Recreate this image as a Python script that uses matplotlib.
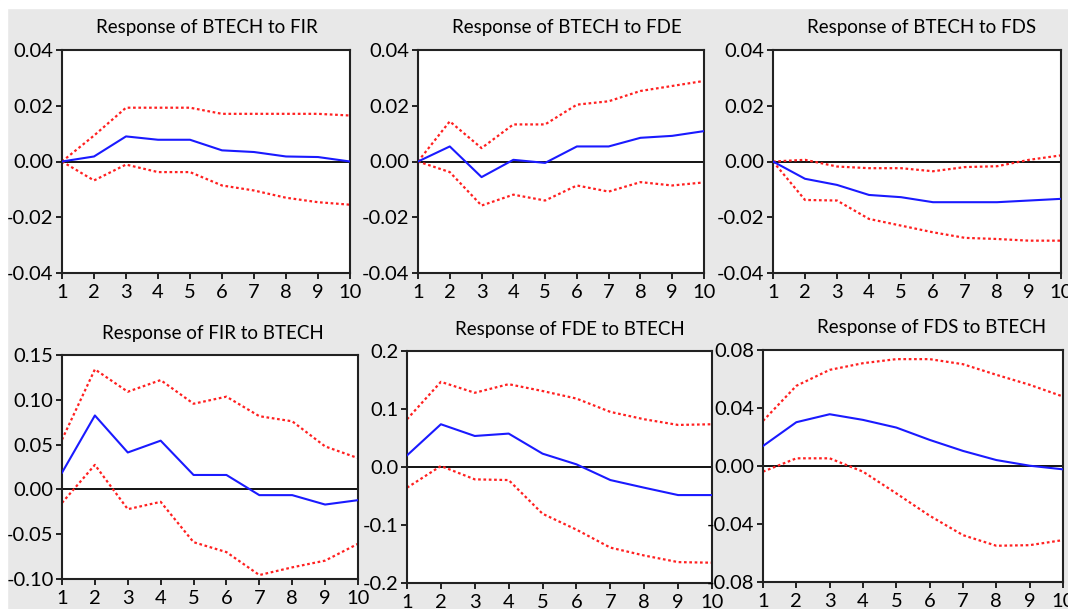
import numpy as np
import matplotlib.pyplot as plt
from matplotlib.patches import Rectangle
from matplotlib.ticker import FormatStrFormatter

plt.rcParams['font.family'] = ['Lato', 'DejaVu Sans']

periods = np.arange(1, 11)

titles = ['Response of BTECH to FIR', 'Response of BTECH to FDE', 'Response of BTECH to FDS',
          'Response of FIR to BTECH', 'Response of FDE to BTECH', 'Response of FDS to BTECH']

# impulse responses (blue) and +/- 2 s.e. bands (red)
fir_resp = [0.0, 0.0018, 0.009, 0.0078, 0.0078, 0.004, 0.0034, 0.0018, 0.0016, 0.0]
fir_up = [0.0, 0.0093, 0.0193, 0.0193, 0.0193, 0.0171, 0.0171, 0.0171, 0.0171, 0.0165]
fir_lo = [0.0, -0.0068, -0.0011, -0.0038, -0.0038, -0.0086, -0.0104, -0.013, -0.0146, -0.0155]

fde_resp = [0.0, 0.0054, -0.0056, 0.0006, -0.0005, 0.0054, 0.0054, 0.0085, 0.0092, 0.0109]
fde_up = [0.0, 0.0144, 0.0048, 0.0133, 0.0133, 0.0204, 0.0216, 0.0253, 0.0271, 0.0289]
fde_lo = [0.0, -0.0038, -0.0158, -0.0119, -0.014, -0.0086, -0.0108, -0.0074, -0.0086, -0.0075]

fds_resp = [0.0, -0.0062, -0.0084, -0.012, -0.0128, -0.0146, -0.0146, -0.0146, -0.014, -0.0134]
fds_up = [0.0, 0.0006, -0.0018, -0.0024, -0.0024, -0.0035, -0.002, -0.0017, 0.0006, 0.0022]
fds_lo = [0.0, -0.0138, -0.014, -0.0206, -0.023, -0.0254, -0.0274, -0.0278, -0.0284, -0.0284]

bt_fir_resp = [0.0187, 0.0825, 0.0412, 0.0544, 0.0161, 0.0161, -0.0064, -0.0064, -0.0169, -0.012]
bt_fir_up = [0.0555, 0.134, 0.109, 0.122, 0.0956, 0.1035, 0.0817, 0.076, 0.048, 0.0349]
bt_fir_lo = [-0.015, 0.0274, -0.0221, -0.0139, -0.0589, -0.07, -0.0956, -0.087, -0.0795, -0.0607]

bt_fde_resp = [0.020, 0.0737, 0.0535, 0.0576, 0.023, 0.0046, -0.0225, -0.0357, -0.0484, -0.0484]
bt_fde_up = [0.0823, 0.1468, 0.128, 0.1428, 0.131, 0.118, 0.095, 0.0823, 0.0725, 0.0737]
bt_fde_lo = [-0.0357, 0.0017, -0.0213, -0.0225, -0.0806, -0.108, -0.139, -0.1526, -0.164, -0.165]

bt_fds_resp = [0.0138, 0.0302, 0.0357, 0.0318, 0.0265, 0.018, 0.0104, 0.0041, 0.0002, -0.0023]
bt_fds_up = [0.0311, 0.0553, 0.0663, 0.0709, 0.0737, 0.0737, 0.0702, 0.0629, 0.056, 0.0479]
bt_fds_lo = [-0.0039, 0.0053, 0.0053, -0.0039, -0.0189, -0.0343, -0.0477, -0.055, -0.0546, -0.0511]

resp = [fir_resp, fde_resp, fds_resp, bt_fir_resp, bt_fde_resp, bt_fds_resp]
upper = [fir_up, fde_up, fds_up, bt_fir_up, bt_fde_up, bt_fds_up]
lower = [fir_lo, fde_lo, fds_lo, bt_fir_lo, bt_fde_lo, bt_fds_lo]

yticks = [[-0.04, -0.02, 0.0, 0.02, 0.04]] * 3 + [
    [-0.10, -0.05, 0.0, 0.05, 0.10, 0.15],
    [-0.2, -0.1, 0.0, 0.1, 0.2],
    [-0.08, -0.04, 0.0, 0.04, 0.08]]
yfmt = ['%.2f', '%.2f', '%.2f', '%.2f', '%.1f', '%.2f']

W, H = 1068, 609
# axes boxes in pixels: left, right, top, bottom
boxes = [(62, 350, 50, 273), (418, 704, 50, 273), (773, 1061, 50, 273),
         (62, 358, 355, 579), (407, 712, 351, 583), (763, 1063, 350, 582)]
title_pos = [(207, 28), (567, 28), (922, 28), (213, 333), (570, 329), (932, 328)]

fig = plt.figure(figsize=(W / 100, H / 100), dpi=100, facecolor='#e8e8e8')
fig.patches.append(Rectangle((0, 1 - 8 / H), 1, 8 / H, transform=fig.transFigure,
                             color='white', zorder=0))
fig.patches.append(Rectangle((0, 0), 7 / W, 1, transform=fig.transFigure,
                             color='white', zorder=0))

for i in range(6):
    l, r, t, b = boxes[i]
    ax = fig.add_axes([l / W, 1 - b / H, (r - l) / W, (b - t) / H])
    ax.axhline(0, color='black', lw=1.3, zorder=1)
    ax.plot(periods, upper[i], color='#ff2020', lw=1.6, ls=(0, (1.2, 1.2)), zorder=2)
    ax.plot(periods, lower[i], color='#ff2020', lw=1.6, ls=(0, (1.2, 1.2)), zorder=2)
    ax.plot(periods, resp[i], color='#1a1aff', lw=1.5, zorder=3)
    ax.set_xlim(1, 10)
    ax.set_ylim(yticks[i][0], yticks[i][-1])
    ax.set_xticks(periods)
    ax.set_yticks(yticks[i])
    ax.yaxis.set_major_formatter(FormatStrFormatter(yfmt[i]))
    ax.tick_params(direction='out', length=4, width=1.2, labelsize=14.5, pad=2)
    ax.tick_params(axis='x', pad=4)
    for s in ax.spines.values():
        s.set_linewidth(1.5)
        s.set_color('#222222')
    fig.text(title_pos[i][0] / W, 1 - title_pos[i][1] / H, titles[i],
             ha='center', va='center', fontsize=13.5)

fig.savefig('out.png', dpi=100, facecolor=fig.get_facecolor())
